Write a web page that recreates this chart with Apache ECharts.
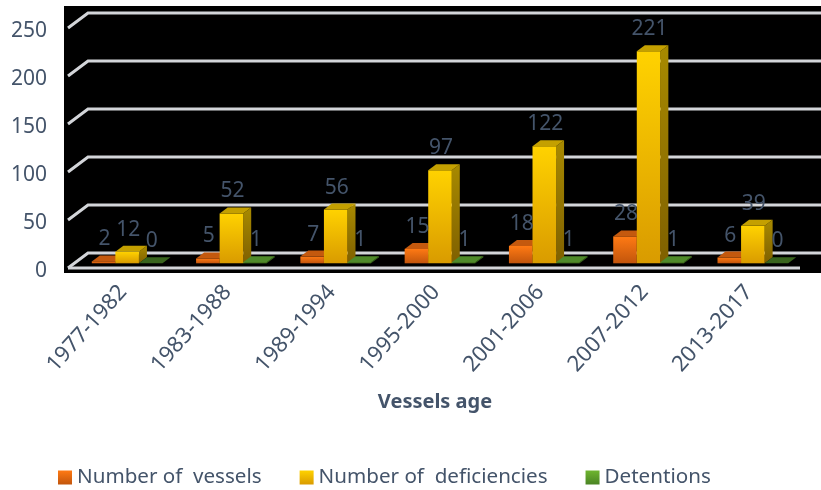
<!DOCTYPE html>
<html>
<head>
<meta charset="utf-8">
<title>Vessels age</title>
<script src="https://cdn.jsdelivr.net/npm/echarts@6/dist/echarts.min.js"></script>
<style>
html, body { margin: 0; padding: 0; background: #fff; }
#chart { width: 821px; height: 490px; }
</style>
</head>
<body>
<div id="chart"></div>
<script>
var categories = ['1977-1982', '1983-1988', '1989-1994', '1995-2000', '2001-2006', '2007-2012', '2013-2017'];
var vessels = [2, 5, 7, 15, 18, 28, 6];
var deficiencies = [12, 52, 56, 97, 122, 221, 39];
var detentions = [0, 1, 1, 1, 1, 1, 0];
var yTicks = [0, 50, 100, 150, 200, 250];

var textColor = '#44546a';
var fontName = '"Noto Sans", sans-serif';

function vGrad(c1, c2) {
	return new echarts.graphic.LinearGradient(0, 0, 0, 1, [
		{ offset: 0, color: c1 },
		{ offset: 1, color: c2 }
	]);
}

/* 3D look bars: front face, top face, side face and the value text */
function barRenderer(slot, colors) {
	return function(params, api) {
		var base = api.coord([api.value(0), 0]);
		var top = api.coord([api.value(0), api.value(1)]);
		var w = api.size([1, 0])[0] * 0.226;
		var dx = 8, dy = 6, lift = 4.7;
		var x0 = base[0] + (slot - 0.5) * w;
		var x1 = x0 + w;
		var y0 = base[1] - lift;
		var y1 = top[1] - lift;
		var zero = api.value(1) === 0;
		var topFill = zero && colors.topZero ? colors.topZero : colors.top;
		var children = [];
		children.push({
			type: 'polygon',
			shape: { points: [[x1, y0], [x1 + dx, y0 - dy], [x1 + dx, y1 - dy], [x1, y1]] },
			style: { fill: vGrad(colors.side1, colors.side2) }
		});
		children.push({
			type: 'rect',
			shape: { x: x0, y: y1, width: w, height: y0 - y1 },
			style: { fill: vGrad(colors.front1, colors.front2) }
		});
		children.push({
			type: 'polygon',
			shape: { points: [[x0, y1], [x0 + dx, y1 - dy], [x1 + dx, y1 - dy], [x1, y1]] },
			style: { fill: topFill }
		});
		children.push({
			type: 'text',
			z2: 100,
			style: {
				text: String(api.value(1)),
				x: (x0 + x1) / 2 + 1,
				y: y1 - 22,
				align: 'center',
				verticalAlign: 'middle',
				fill: textColor,
				font: '21px ' + fontName
			}
		});
		return { type: 'group', children: children };
	};
}

/* back wall lines with the short diagonal going to the front */
function wallRenderer(params, api) {
	var y = api.coord([0, api.value(0)])[1];
	var left = params.coordSys.x;
	var lineStyle = { stroke: '#d3d5d9', lineWidth: 3, fill: null };
	var children = [{
		type: 'polyline',
		shape: { points: [[left - 7, y], [left + 13, y - 15], [821, y - 15]] },
		style: lineStyle
	}];
	if (api.value(0) === 0) {
		children.push({
			type: 'line',
			shape: { x1: left - 7, y1: y, x2: 800, y2: y },
			style: lineStyle
		});
	}
	return { type: 'group', children: children };
}

function pairs(list) {
	var out = [];
	for (var i = 0; i < list.length; i++) {
		out.push([i, list[i]]);
	}
	return out;
}

var orange = { front1: '#ff7a14', front2: '#c2550c', side1: '#a84c0a', side2: '#8a3e08', top: '#c4590e' };
var yellow = { front1: '#ffd200', front2: '#d99b00', side1: '#a88a00', side2: '#7f6000', top: '#c4a000' };
var green = { front1: '#6fb52f', front2: '#4a8424', side1: '#3f6f1e', side2: '#35601a', top: '#4f8a2a', topZero: '#38641d' };

var myChart = echarts.init(document.getElementById('chart'));
myChart.setOption({
	animation: false,
	backgroundColor: '#fff',
	graphic: [{
		type: 'rect',
		z: 0,
		shape: { x: 64, y: 6, width: 757, height: 267 },
		style: { fill: '#000' }
	}],
	grid: { left: 75, top: 28, width: 730, height: 240 },
	legend: {
		left: 58,
		top: 467,
		padding: 0,
		itemWidth: 14,
		itemHeight: 14,
		itemGap: 38,
		icon: 'rect',
		data: ['Number of  vessels', 'Number of  deficiencies', 'Detentions'],
		textStyle: { color: textColor, fontSize: 20.6, fontFamily: fontName }
	},
	xAxis: {
		type: 'category',
		data: categories,
		name: 'Vessels age',
		nameLocation: 'middle',
		nameGap: 124,
		nameTextStyle: { color: textColor, fontSize: 20, fontWeight: 'bold', fontFamily: fontName, padding: [0, 10, 0, 0] },
		axisLine: { show: false },
		axisTick: { show: false },
		axisLabel: { rotate: 48, margin: 16, interval: 0, color: textColor, fontSize: 22, fontFamily: fontName, padding: [0, 6, 0, 0] }
	},
	yAxis: {
		type: 'value',
		min: 0,
		max: 250,
		interval: 50,
		axisLine: { show: false },
		axisTick: { show: false },
		splitLine: { show: false },
		axisLabel: { margin: 28, color: textColor, fontSize: 21, fontFamily: fontName, verticalAlign: 'top', lineHeight: 6 }
	},
	series: [
		{ type: 'custom', name: 'wall', renderItem: wallRenderer, data: yTicks.map(function(v) { return [v]; }), encode: { y: 0 }, clip: false, silent: true },
		{ type: 'custom', name: 'Number of  vessels', renderItem: barRenderer(-1, orange), data: pairs(vessels), encode: { x: 0, y: 1 }, clip: false, itemStyle: { color: vGrad('#ff7a14', '#c2550c') } },
		{ type: 'custom', name: 'Number of  deficiencies', renderItem: barRenderer(0, yellow), data: pairs(deficiencies), encode: { x: 0, y: 1 }, clip: false, itemStyle: { color: vGrad('#ffd200', '#d99b00') } },
		{ type: 'custom', name: 'Detentions', renderItem: barRenderer(1, green), data: pairs(detentions), encode: { x: 0, y: 1 }, clip: false, itemStyle: { color: vGrad('#6fb52f', '#4a8424') } }
	]
});
</script>
</body>
</html>
